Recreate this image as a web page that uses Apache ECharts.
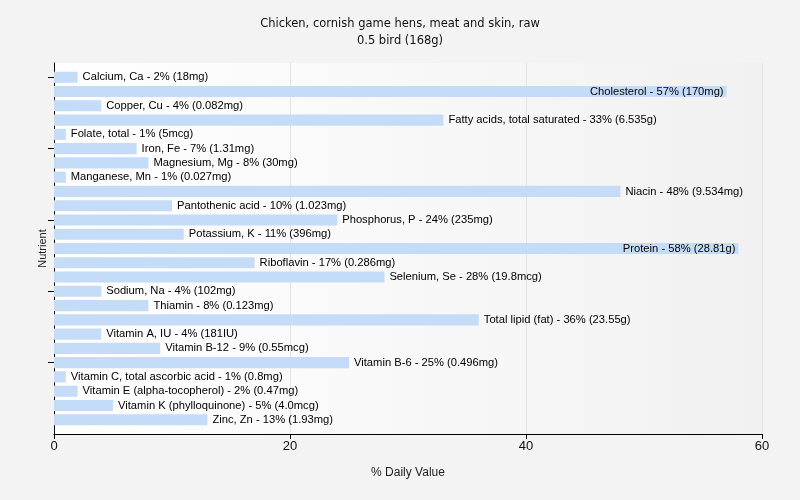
<!DOCTYPE html>
<html>
<head>
<meta charset="utf-8">
<script src="https://cdn.jsdelivr.net/npm/echarts@6/dist/echarts.min.js"></script>
<style>
html,body{margin:0;padding:0;background:#f3f3f3;}
#c{width:800px;height:500px;}
</style>
</head>
<body>
<div id="c"></div>
<script>
var titleText = "Chicken, cornish game hens, meat and skin, raw";
var subtitleText = "0.5 bird (168g)";
var nutrients = ["Calcium, Ca","Cholesterol","Copper, Cu","Fatty acids, total saturated","Folate, total","Iron, Fe","Magnesium, Mg","Manganese, Mn","Niacin","Pantothenic acid","Phosphorus, P","Potassium, K","Protein","Riboflavin","Selenium, Se","Sodium, Na","Thiamin","Total lipid (fat)","Vitamin A, IU","Vitamin B-12","Vitamin B-6","Vitamin C, total ascorbic acid","Vitamin E (alpha-tocopherol)","Vitamin K (phylloquinone)","Zinc, Zn"];
var dailyValues = [2,57,4,33,1,7,8,1,48,10,24,11,58,17,28,4,8,36,4,9,25,1,2,5,13];
var amounts = ["18mg","170mg","0.082mg","6.535g","5mcg","1.31mg","30mg","0.027mg","9.534mg","1.023mg","235mg","396mg","28.81g","0.286mg","19.8mcg","102mg","0.123mg","23.55g","181IU","0.55mcg","0.496mg","0.8mg","0.47mg","4.0mcg","1.93mg"];
var xTicks = [0,20,40,60];
var yTickIdx = [0,5,10,15,20];

var chart = echarts.init(document.getElementById('c'));
var font = "'Liberation Sans', Arial, sans-serif";
var data = dailyValues.map(function(v,i){
  var inside = v > 50;
  return {
    value: v,
    label: {
      position: inside ? 'insideRight' : 'right',
      distance: inside ? 3 : 5
    }
  };
});
chart.setOption({
  backgroundColor: '#f3f3f3',
  animation: false,
  title: {
    text: titleText + "\n" + subtitleText,
    left: 'center',
    top: 11,
    textStyle: {fontFamily: "'DejaVu Sans', Verdana, sans-serif", fontSize: 11.5, fontWeight: 'normal', color: '#111', lineHeight: 17}
  },
  grid: {left: 54, right: 38, top: 63, bottom: 66, show: true, borderWidth: 0,
    backgroundColor: new echarts.graphic.LinearGradient(0,0,1,0,[{offset:0,color:'#ffffff'},{offset:1,color:'#f1f1f1'}])},
  xAxis: {
    type: 'value', min: 0, max: 60, interval: 20,
    name: '% Daily Value', nameLocation: 'middle', nameGap: 33,
    nameTextStyle: {fontFamily: font, fontSize: 12, color: '#222'},
    axisLine: {show: true, lineStyle: {color: '#000', width: 1}},
    axisTick: {show: true, length: 5, lineStyle: {color: '#000'}},
    axisLabel: {fontFamily: font, fontSize: 13, color: '#111', margin: 6},
    splitLine: {show: true, lineStyle: {color: '#e4e4e4', width: 1}}
  },
  yAxis: {
    type: 'category', data: nutrients, inverse: true,
    min: -1, max: 25, boundaryGap: false,
    name: 'Nutrient', nameLocation: 'middle', nameGap: 6, nameRotate: 90,
    nameTextStyle: {fontFamily: font, fontSize: 11, color: '#222'},
    axisLine: {show: true, lineStyle: {color: '#000', width: 1}},
    axisTick: {show: true, length: 6, customValues: yTickIdx, lineStyle: {color: '#000'}},
    axisLabel: {show: false},
    splitLine: {show: false}
  },
  series: [{
    type: 'bar',
    data: data,
    barCategoryGap: '22%',
    itemStyle: {color: '#c5dcf8'},
    label: {
      show: true,
      fontFamily: font, fontSize: 11.2, color: '#000',
      formatter: function(p){ return nutrients[p.dataIndex] + ' - ' + dailyValues[p.dataIndex] + '% (' + amounts[p.dataIndex] + ')'; }
    }
  }]
});
</script>
</body>
</html>
